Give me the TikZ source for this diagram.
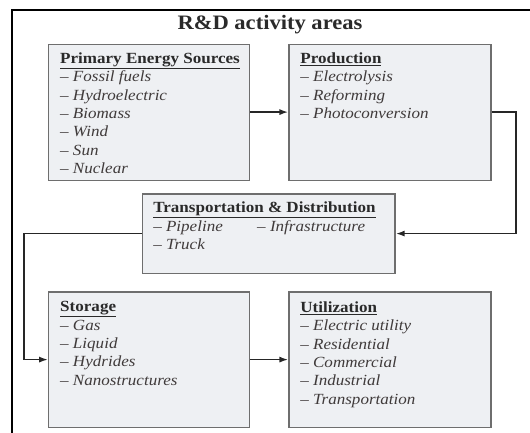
\documentclass[tikz,border=0pt]{standalone}
\usepackage{fontspec}
\setmainfont{Liberation Serif}[FakeStretch=1.1]
\usetikzlibrary{arrows.meta,positioning,calc}

\definecolor{boxfill}{HTML}{EEF0F3}
\definecolor{boxline}{HTML}{6E6E6E}
\definecolor{headgray}{HTML}{2A2A2A}
\definecolor{itemgray}{HTML}{403B3B}

\newcommand{\areahead}[1]{{\color{headgray}\upshape\bfseries\underline{#1}}}

\begin{document}
\begin{tikzpicture}
[every node/.style={draw=none},
area/.style={rectangle, draw=boxline, line width=1.1pt, fill=boxfill, inner sep=0pt},
list/.style={anchor=north west, inner sep=0pt, align=left, text=itemgray,
  font=\fontsize{15.5}{18.4}\selectfont\itshape},
edge/.style={-{Latex[length=9pt,width=6pt]}, shorten >=.0pt, shorten <=.0pt, line width=1.8pt, draw=black!85}]
\useasboundingbox (0,0) rectangle (18.63,-15.22);
%% frame and title
\draw[line width=2.2pt] (0.42,-15.6) |- (19.0,-0.35);
\node (title) [anchor=base, text=headgray, font=\fontsize{20.5}{24}\selectfont\bfseries]
  at (9.49,-1.05) {R\&D activity areas};
%%
%% upper row
\node[area, minimum width=7.07cm, minimum height=4.78cm] (psrc) at (5.25,-3.94) {};
\node[area, minimum width=7.10cm, minimum height=4.78cm] (prod) at (13.71,-3.94) {};
\node[list] (psrc-txt) at (2.11,-1.84) {\areahead{Primary Energy Sources}\\
  -- Fossil fuels\\ -- Hydroelectric\\ -- Biomass\\ -- Wind\\ -- Sun\\ -- Nuclear};
\node[list] (prod-txt) at (10.55,-1.84) {\areahead{Production}\\
  -- Electrolysis\\ -- Reforming\\ -- Photoconversion};
%%
%% middle
\node[area, minimum width=8.89cm, minimum height=2.78cm] (trans) at (9.44,-8.21) {};
\node[list] (trans-txt) at (5.38,-7.09) {\areahead{Transportation \& Distribution}\\
  \makebox[104pt][l]{-- Pipeline}-- Infrastructure\\ -- Truck};
%%
%% lower row
\node[area, minimum width=7.07cm, minimum height=4.75cm] (stor) at (5.25,-12.64) {};
\node[area, minimum width=7.10cm, minimum height=4.75cm] (util) at (13.71,-12.64) {};
\node[list] (stor-txt) at (2.11,-10.59) {\areahead{Storage}\\
  -- Gas\\ -- Liquid\\ -- Hydrides\\ -- Nanostructures};
\node[list] (util-txt) at (10.55,-10.59) {\areahead{Utilization}\\
  -- Electric utility\\ -- Residential\\ -- Commercial\\ -- Industrial\\ -- Transportation};
%%
%% connectors
\coordinate (rturn) at (18.14,-3.94);
\coordinate (lturn) at (0.84,-8.21);
\draw[edge] (psrc) -- (prod);
\draw[edge] (prod.east) -- (rturn) |- (trans.east);
\draw[edge] (trans.west) -- (lturn) |- (stor.west);
\draw[edge] (stor) -- (util);
\end{tikzpicture}
\end{document}
